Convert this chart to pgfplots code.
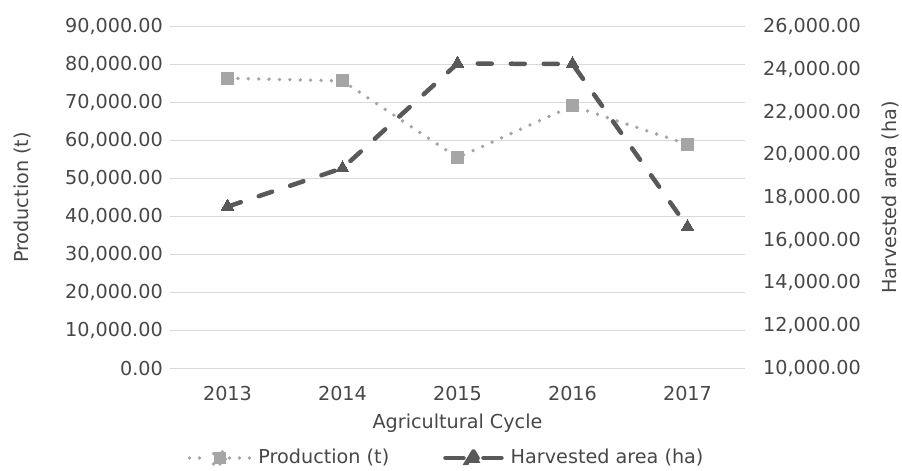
\documentclass[border=0pt]{standalone}
\usepackage{pgfplots}
\pgfplotsset{compat=1.18}
\usepackage{fontspec}
\setmainfont{DejaVu Sans}
\definecolor{prodc}{HTML}{A5A5A5}
\definecolor{harvc}{HTML}{595959}
\definecolor{gridc}{HTML}{D9D9D9}
\definecolor{txtc}{HTML}{474747}
\begin{document}
\fontsize{19.2}{23}\selectfont
\begin{tikzpicture}
\pgfplotsset{
  common/.style={
    scale only axis, width=575pt, height=341.7pt,
    xmin=-0.5, xmax=4.5,
    axis line style={draw=none}, tick style={draw=none},
    font=\fontsize{19.2}{23}\selectfont\color{txtc},
    scaled y ticks=false,
    yticklabel style={/pgf/number format/fixed, /pgf/number format/fixed zerofill, /pgf/number format/precision=2, /pgf/number format/1000 sep={,}, /pgf/number format/assume math mode=true},
    clip=false,
  },
  prod/.style={color=prodc, line width=3.8pt, dash pattern=on 0pt off 10.4pt, line cap=round,
    mark=square*, mark size=6pt, mark options={solid, fill=prodc, draw=prodc, line width=0pt}},
  harv/.style={color=harvc, line width=4.5pt, dash pattern=on 14pt off 19pt, line cap=round,
    mark=triangle*, mark size=7.5pt, mark options={solid, fill=harvc, draw=harvc, line width=0pt}},
  legprod/.style={prod, legend image code/.code={
    \draw[prodc, solid, line width=3.8pt, line cap=round, dash pattern=on 0pt off 10pt] (0pt,0pt) -- (20pt,0pt);
    \draw[prodc, solid, line width=3.8pt, line cap=round, dash pattern=on 0pt off 10pt] (40pt,0pt) -- (60pt,0pt);
    \fill[prodc] (24pt,-6pt) rectangle (36pt,6pt);
  }},
  legharv/.style={harv, legend image code/.code={
    \draw[harvc, solid, line width=4.5pt, line cap=round] (2pt,0pt) -- (20pt,0pt);
    \draw[harvc, solid, line width=4.5pt, line cap=round] (40pt,0pt) -- (58pt,0pt);
    \fill[harvc] (30pt,6.5pt) -- (23pt,-5pt) -- (37pt,-5pt) -- cycle;
  }},
}
\begin{axis}[common,
  ymin=0, ymax=90000, ytick={0,10000,...,90000},
  ymajorgrids, grid style={gridc, line width=1.2pt},
  yticklabel style={inner sep=0pt, anchor=east, xshift=-7pt},
  xtick=data, xticklabels={2013,2014,2015,2016,2017},
  xticklabel style={inner sep=0pt, anchor=north, yshift=-18pt},
  xlabel={Agricultural Cycle},
  xlabel style={at={(axis description cs:0.5,0)}, anchor=center, yshift=-55pt},
  ylabel={Production (t)},
  ylabel style={at={(axis description cs:-0.2574,0.5)}, anchor=center},
]
\addplot[prod] coordinates {(0,76400) (1,75700) (2,55500) (3,69100) (4,59000)};
\end{axis}
\begin{axis}[common,
  ymin=10000, ymax=26000, ytick={10000,12000,...,26000},
  axis y line*=right, axis x line=none,
  yticklabel style={inner sep=0pt, anchor=west, xshift=18pt},
  ylabel={Harvested area (ha)},
  ylabel style={at={(axis description cs:1.2522,0.5)}, anchor=center},
  legend columns=2,
  legend style={at={(axis description cs:0.481,-0.2625)}, anchor=center, draw=none, fill=none,
    font=\fontsize{19.2}{23}\selectfont\color{txtc},
    /tikz/every odd column/.append style={column sep=5pt},
    /tikz/every even column/.append style={column sep=52pt}},
]
\addlegendimage{legprod}
\addlegendentry{Production (t)}
\addlegendimage{legharv}
\addlegendentry{Harvested area (ha)}
\addplot[harv, forget plot] coordinates {(0,17570) (1,19370) (2,24270) (3,24250) (4,16620)};
\end{axis}
\pgfresetboundingbox
\path (current axis.south west) ++(-170pt,-102.7pt) rectangle ++(902pt,471pt);
\end{tikzpicture}
\end{document}
